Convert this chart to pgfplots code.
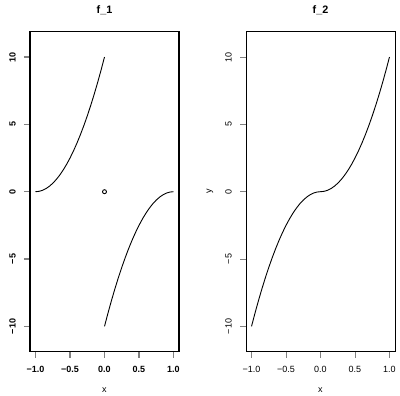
\documentclass[border=0pt]{standalone}
\usepackage{fontspec}
\setmainfont{Liberation Sans}
\usepackage{pgfplots}
\pgfplotsset{compat=1.18}
\begin{document}
\begin{tikzpicture}[x=1pt,y=1pt]
\useasboundingbox (0,0) rectangle (400,396);
\pgfplotsset{
  myaxis/.style={
    scale only axis, width=149pt, height=320pt,
    xmin=-1.08, xmax=1.08, ymin=-11.88, ymax=11.88,
    xtick={-1,-0.5,0,0.5,1}, ytick={-10,-5,0,5,10},
    xticklabels={−1.0,−0.5,0.0,0.5,1.0}, yticklabels={−10,−5,0,5,10},
    tick align=outside, major tick length=6pt,
    xtick pos=left, ytick pos=left,
    xticklabel style={font=\fontsize{9}{10}\selectfont, inner sep=0pt, anchor=north},
    yticklabel style={font=\fontsize{9}{10}\selectfont, rotate=90, anchor=south, inner sep=0pt},
    xticklabel shift=8pt, yticklabel shift=8pt,
    every axis x label/.style={at={(axis description cs:0.5,-0.1197)},anchor=center,font=\fontsize{9}{10}\selectfont},
    every axis y label/.style={at={(axis description cs:-0.242,0.5)},rotate=90,anchor=center,font=\fontsize{9}{10}\selectfont},
    every axis title/.style={at={(axis description cs:0.5,1.066)},anchor=center,font=\bfseries\fontsize{10.8}{12}\selectfont},
  }
}
\begin{axis}[myaxis, at={(30pt,44.3pt)}, anchor=south west,
  title={f\_1}, xlabel={x},
  axis line style={line width=1.5pt}, major tick style={line width=1.5pt},
  xticklabel style={font=\bfseries\fontsize{9}{10}\selectfont},
  yticklabel style={font=\bfseries\fontsize{9}{10}\selectfont}]
\addplot[black, line width=0.9pt] coordinates {
(-1,0) (-0.95,0.025) (-0.9,0.1) (-0.85,0.225) (-0.8,0.4) (-0.75,0.625) (-0.7,0.9)
(-0.65,1.225) (-0.6,1.6) (-0.55,2.025) (-0.5,2.5) (-0.45,3.025) (-0.4,3.6)
(-0.35,4.225) (-0.3,4.9) (-0.25,5.625) (-0.2,6.4) (-0.15,7.225) (-0.1,8.1)
(-0.05,9.025) (0,10)};
\addplot[black, line width=0.9pt] coordinates {
(0,-10) (0.05,-9.025) (0.1,-8.1) (0.15,-7.225) (0.2,-6.4) (0.25,-5.625) (0.3,-4.9)
(0.35,-4.225) (0.4,-3.6) (0.45,-3.025) (0.5,-2.5) (0.55,-2.025) (0.6,-1.6)
(0.65,-1.225) (0.7,-0.9) (0.75,-0.625) (0.8,-0.4) (0.85,-0.225) (0.9,-0.1)
(0.95,-0.025) (1,0)};
\addplot[black, only marks, mark=o, mark size=2pt, line width=0.9pt] coordinates {(0,0)};
\end{axis}
\begin{axis}[myaxis, at={(246pt,44.3pt)}, anchor=south west,
  title={f\_2}, xlabel={x}, ylabel={y},
  axis line style={line width=0.9pt}, major tick style={line width=0.9pt}]
\addplot[black, line width=0.9pt] coordinates {
(-1,-10) (-0.95,-9.025) (-0.9,-8.1) (-0.85,-7.225) (-0.8,-6.4) (-0.75,-5.625) (-0.7,-4.9)
(-0.65,-4.225) (-0.6,-3.6) (-0.55,-3.025) (-0.5,-2.5) (-0.45,-2.025) (-0.4,-1.6)
(-0.35,-1.225) (-0.3,-0.9) (-0.25,-0.625) (-0.2,-0.4) (-0.15,-0.225) (-0.1,-0.1)
(-0.05,-0.025) (0,0)
(0.05,0.025) (0.1,0.1) (0.15,0.225) (0.2,0.4) (0.25,0.625) (0.3,0.9)
(0.35,1.225) (0.4,1.6) (0.45,2.025) (0.5,2.5) (0.55,3.025) (0.6,3.6)
(0.65,4.225) (0.7,4.9) (0.75,5.625) (0.8,6.4) (0.85,7.225) (0.9,8.1)
(0.95,9.025) (1,10)};
\end{axis}
\end{tikzpicture}
\end{document}
